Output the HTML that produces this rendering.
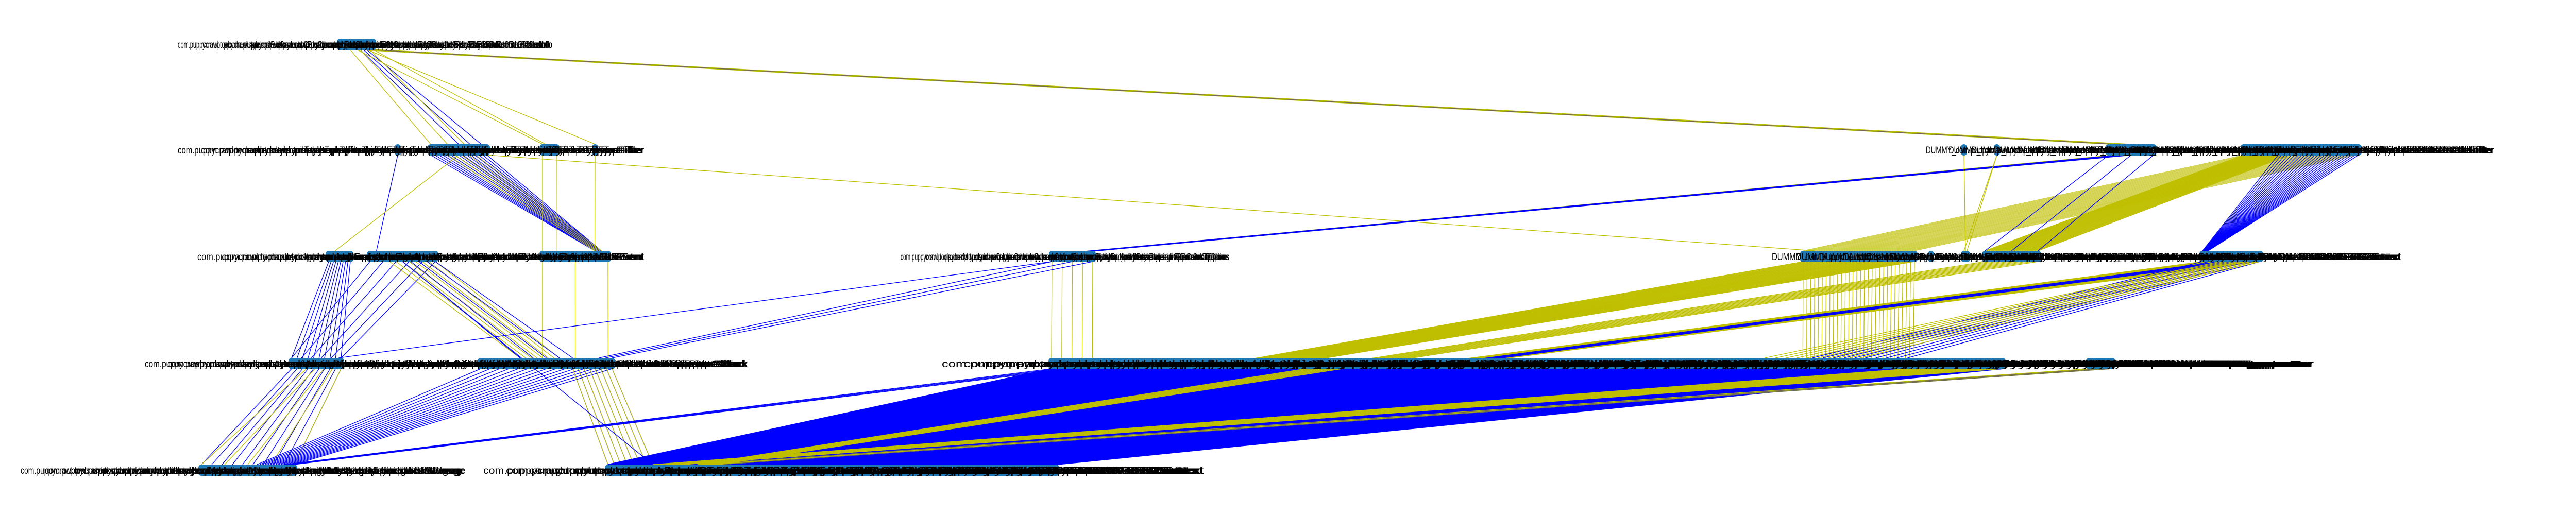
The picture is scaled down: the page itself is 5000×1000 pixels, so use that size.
<!DOCTYPE html>
<html><head><meta charset="utf-8"><style>
html,body{margin:0;padding:0;background:#fff;width:5000px;height:1000px;overflow:hidden}
svg{display:block}
text{font-family:"Liberation Sans","DejaVu Sans",sans-serif;font-size:19px;fill:#000}
</style></head><body>
<svg id="g" width="5000" height="1000" viewBox="0 0 5000 1000" xmlns="http://www.w3.org/2000/svg">
<g id="edges"></g>
<g id="nodes"></g>
<g id="labels"></g>
</svg>
<script>
// layer y-levels
const rowLevels = [86, 291, 498, 706, 913];
// node clusters
const clusterNames = ['A','B1','B2','B3','B4','B5','B6','B7','B8','C1','C2','C3','C4','C5','C6','C7','C8','C9','D1','D2','D3','D4','E1','E2'];
const clusterRows  = [0,1,1,1,1,1,1,1,1,2,2,2,2,2,2,2,2,2,3,3,3,3,4,4];
const clusterX0    = [660,772,836,1053,1155,3812,3876,4093,4355,638,718,1053,2042,3500,3748,3812,3853,4275,566,933,2041,4055,391,1180];
const clusterX1    = [724,772,945,1080,1155,3812,3876,4180,4578,680,845,1180,2121,3716,3748,3818,3956,4387,662,1188,3887,4100,571,2050];
// edge bundles
const edgeFrom  = ['A','A','A','A','A','A','B1','B2','B2','B2','B2','B3','B4','C1','C2','C2','C2','D1','D1','D2','D2','D2','C3','C2','C4','C4','C4','C4','C5','C5','C9','C9','C9','C9','B8','B8','B8','B5','B6','D3','D3','D4','D4','D3','C4','C8','B7'];
const edgeTo    = ['B2','B2','B3','B4','B7','B7','C2','C3','C3','C1','C5','C3','C3','D1','D1','D2','D2','E1','E1','E1','E2','E2','D2','E2','D3','B7','B7','D2','D3','E2','E2','E2','D3','D3','C5','C8','C9','C7','C7','E2','E2','E2','E2','E1','D1','E2','C8'];
const edgeColor = ['b','y','y','y','y','k','b','b','y','y','y','y','y','b','b','y','b','b','y','b','b','y','y','b','y','y','b','b','y','y','y','b','b','y','y','y','b','y','y','b','y','y','k','b','b','y','b'];
const edgeCount = [3,3,2,1,8,1,1,15,5,1,1,2,1,10,6,8,5,10,5,15,8,8,3,1,5,6,4,3,30,30,20,5,10,10,45,30,25,1,2,700,40,6,2,4,1,10,3];
const edgeFromF0 = [0.6,0.3,0.5,0.8,0.4,0.5,0,0,0.3,0.5,1,0,0,0,0,0.3,0.5,0,0.3,0,0.7,0.7,0,0.5,0,0.8,0.8,0,0,0,0,0.3,0,0.3,0,0,0.3,0,0,0,0.9,0,0.5,0,0,0,0];
const edgeFromF1 = [0.8,0.9,1,0.8,1,1,0,1,0.8,0.5,1,1,0,1,1,1,1,1,1,1,1,1,1,0.5,1,1,1,1,1,1,1,0.6,1,1,1,0.4,1,0,1,1,1,1,1,0.02,0,1,1];
const edgeToF0 = [0.5,0,0,0,0,0,0.1,0.8,0.8,0.3,0,0,0.8,0,0,0.3,0.3,0,0,0.6,0,0,0.47,0.1,0,0,0.1,0.9,0.79,0.1,0.12,0.15,0.8,0.75,0,0,0,0,0,0,0.1,0.2,0.2,0.9,0.95,0.2,0];
const edgeToF1 = [0.9,0.6,0.21,0,0.5,0.3,0.1,0.9,0.9,0.3,0.2,0.21,0.8,1,1,0.6,0.7,1,1,1,0.1,0.1,0.97,0.1,0.043,0.3,0.4,1,0.906,0.15,0.16,0.18,0.9,0.85,1,1,0.1,1,1,1,0.17,0.25,0.25,1,0.95,0.25,1];
const COL = {b:'#0000ff', y:'#bfbf00', k:'#6b6b50'};
const labelRow  = [0,1,1,2,2,2,3,3,4,4];
const labelX0   = [345,345,3738,383,1748,3439,281,1828,40,938];
const labelX1   = [1072,1250,4840,1250,2386,4660,1451,4491,903,2336];
const labelEnd  = ['com.puppycrawl.tools.checkstyle.api.FileContents.ClassInfo','com.puppycrawl.tools.checkstyle.api.TokenTypes.Filter','DUMMY_com.puppycrawl.tools.checkstyle.api.AbstractFileSetCheck.Filter','com.puppycrawl.tools.checkstyle.api.AuditEvent','com.puppycrawl.tools.checkstyle.api.LineColumnOptions','DUMMY_com.puppycrawl.tools.checkstyle.api.AbstractCheck.FileContext','com.puppycrawl.tools.checkstyle.api.AbstractViolationReporterCheck','com.puppycrawl.tools.checkstyle.checks.javadoc.JavadocStyleCheck.CheckNameComparator','com.puppycrawl.tools.checkstyle.api.LocalizedMessage','com.puppycrawl.tools.checkstyle.api.DetailAST.FileContext'];
const NS='http://www.w3.org/2000/svg';
const idx = n => clusterNames.indexOf(n);
const yOf = r => rowLevels[r];
const xAt = (c,f) => clusterX0[c]+(clusterX1[c]-clusterX0[c])*f;
const eG=document.getElementById('edges'), nG=document.getElementById('nodes'), lG=document.getElementById('labels');
for(let e=0;e<edgeFrom.length;e++){
  const a=idx(edgeFrom[e]), b=idx(edgeTo[e]), n=edgeCount[e];
  for(let i=0;i<n;i++){
    const t = n>1 ? i/(n-1) : 0.5;
    const x1 = xAt(a, edgeFromF0[e]+(edgeFromF1[e]-edgeFromF0[e])*t);
    const x2 = xAt(b, edgeToF0[e]+(edgeToF1[e]-edgeToF0[e])*t);
    const ya=yOf(clusterRows[a]), yb=yOf(clusterRows[b]);
    const dir = yb>ya?1:-1;
    const l=document.createElementNS(NS,'line');
    
    
    l.setAttribute('x1',x1);l.setAttribute('y1',ya+dir*10);
    l.setAttribute('x2',x2);l.setAttribute('y2',yb-dir*11);
    l.setAttribute('stroke',COL[edgeColor[e]]);
    l.setAttribute('stroke-width', n>100?2:(edgeFrom[e]==='B8'&&edgeTo[e]==='C5'?0.7:1.3));
    eG.appendChild(l);
  }
}
for(let c=0;c<clusterNames.length;c++){
  const r=document.createElementNS(NS,'rect');
  
  
  r.setAttribute('x',clusterX0[c]-6);r.setAttribute('y',yOf(clusterRows[c])-11);
  r.setAttribute('width',clusterX1[c]-clusterX0[c]+12);r.setAttribute('height',22);
  r.setAttribute('rx',6);r.setAttribute('fill','#1f77b4');
  nG.appendChild(r);
}
for(let k=0;k<labelRow.length;k++){
  const x0=labelX0[k], x1=labelX1[k], y=yOf(labelRow[k])+7;
  const w=x1-x0, parts=Math.max(3,Math.round(w/70));
  for(let p=0;p<parts;p++){
    const xs=x0+(w*0.6)*p/Math.max(1,parts-1);
    const t=document.createElementNS(NS,'text');
    
    
    t.setAttribute('x',xs);t.setAttribute('y',y);
    const len = (p===parts-1)? (x1-xs) : Math.min(x1-xs, w*0.4+(w*0.5)*p/parts);
    t.setAttribute('textLength',len);t.setAttribute('lengthAdjust','spacingAndGlyphs');
    t.textContent = labelEnd[k];
    lG.appendChild(t);
  }
}
</script>
</body></html>
